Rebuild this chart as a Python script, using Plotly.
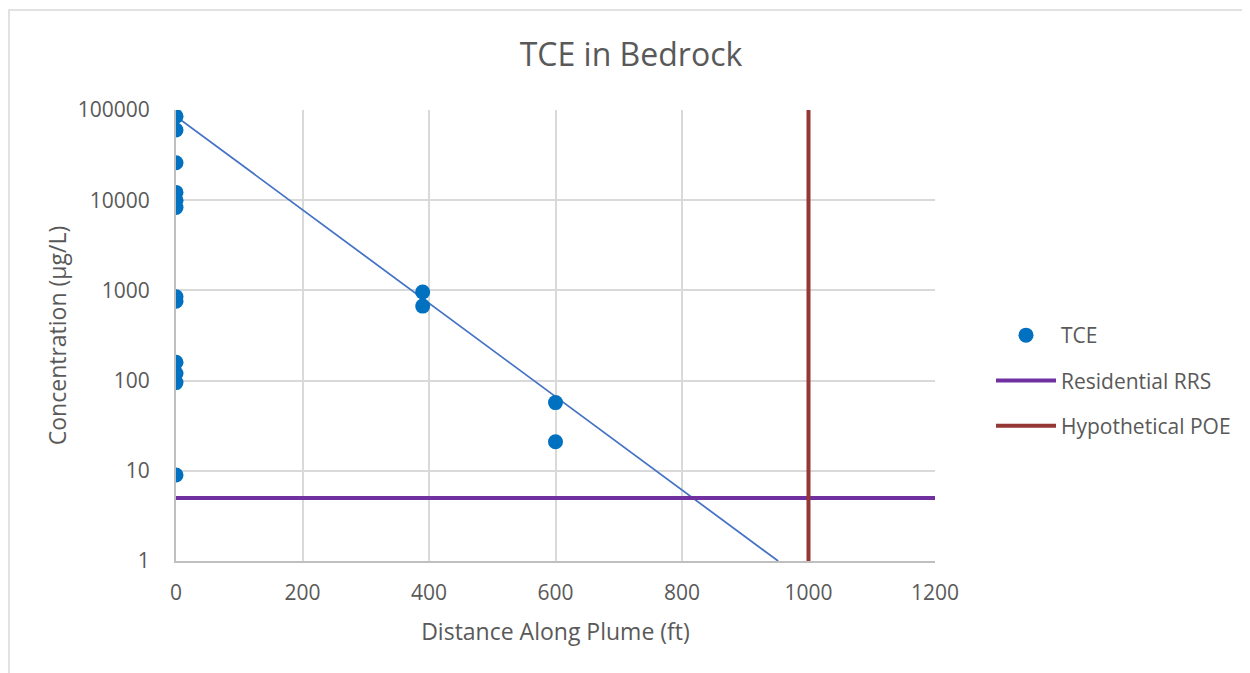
import plotly.graph_objects as go

# Data
tce_x = [0, 0, 0, 0, 0, 0, 0, 0, 0, 0, 0, 0, 390, 390, 600, 600]
tce_y = [85000, 60000, 26000, 12200, 10000, 8300, 850, 760, 160, 120, 95, 9, 960, 670, 57, 21]
trend_x = [0, 952]
trend_y = [85000, 1]
rrs_x = [0, 1200]
rrs_y = [5, 5]
poe_x = [1000, 1000]
poe_y = [1, 100000]
x_ticks = [0, 200, 400, 600, 800, 1000, 1200]
y_ticks = [1, 10, 100, 1000, 10000, 100000]
y_labels = ["1", "10", "100", "1000", "10000", "100000"]

FONT = "Open Sans"
GRAY = "#595959"
OFF = 8  # page body offset

W, H = 1250, 673
# target screen positions of plot area
sx0, sx1, sy0, sy1 = 176, 935, 110, 561
L = sx0 - OFF
T = sy0 - OFF
R = W - (sx1 - OFF)
B = H - (sy1 - OFF)
pw, ph = W - L - R, H - T - B


def px(sx):
    return (sx - sx0) / pw


def py(sy):
    return (sy1 - sy) / ph


fig = go.Figure()
fig.add_trace(go.Scatter(x=trend_x, y=trend_y, mode="lines",
                         line=dict(color="#4472C4", width=1.75),
                         showlegend=False, hoverinfo="skip"))
fig.add_trace(go.Scatter(x=tce_x, y=tce_y, mode="markers", name="TCE",
                         legendgroup="a",
                         marker=dict(color="#0070C0", size=15)))
fig.add_trace(go.Scatter(x=rrs_x, y=rrs_y, mode="lines", name="Residential RRS",
                         legendgroup="b",
                         line=dict(color="#7030A0", width=4)))
fig.add_trace(go.Scatter(x=poe_x, y=poe_y, mode="lines", name="Hypothetical POE",
                         legendgroup="c",
                         line=dict(color="#953735", width=4)))

fig.update_layout(
    width=W, height=H,
    margin=dict(l=L, r=R, t=T, b=B),
    paper_bgcolor="white", plot_bgcolor="white",
    font=dict(family=FONT, color=GRAY, size=18),
    title=dict(text="TCE in Bedrock", x=(631 - OFF) / W, xanchor="center",
               y=1 - (55 - OFF) / H, yanchor="middle",
               font=dict(size=32, color=GRAY, family=FONT)),
    xaxis=dict(range=[0, 1200], tickvals=x_ticks, showgrid=True,
               gridcolor="#d9d9d9", gridwidth=1.5, zeroline=False,
               showline=True, linecolor="#bfbfbf", linewidth=2,
               ticks="outside", ticklen=12, tickcolor="rgba(0,0,0,0)",
               tickfont=dict(size=21, color=GRAY),
               title=dict(text="Distance Along Plume (ft)",
                          font=dict(size=23, color=GRAY), standoff=19)),
    yaxis=dict(type="log", range=[0, 5], tickvals=y_ticks, ticktext=y_labels,
               showgrid=True, gridcolor="#d9d9d9", gridwidth=1.5,
               zeroline=False, showline=True, linecolor="#bfbfbf", linewidth=2,
               ticks="outside", ticklen=20, tickcolor="rgba(0,0,0,0)",
               tickfont=dict(size=21, color=GRAY),
               title=dict(text="Concentration (µg/L)",
                          font=dict(size=23, color=GRAY), standoff=5)),
    legend=dict(x=px(991), xanchor="left", y=py(315),
                yanchor="top", font=dict(size=21, color=GRAY),
                tracegroupgap=15, itemwidth=60, bgcolor="rgba(0,0,0,0)"),
    shapes=[dict(type="rect", xref="paper", yref="paper",
                 x0=px(9), x1=px(W + 30),
                 y0=py(H + 30), y1=py(10),
                 line=dict(color="#d9d9d9", width=1.5), layer="below")],
)

fig.write_html("out.html")
